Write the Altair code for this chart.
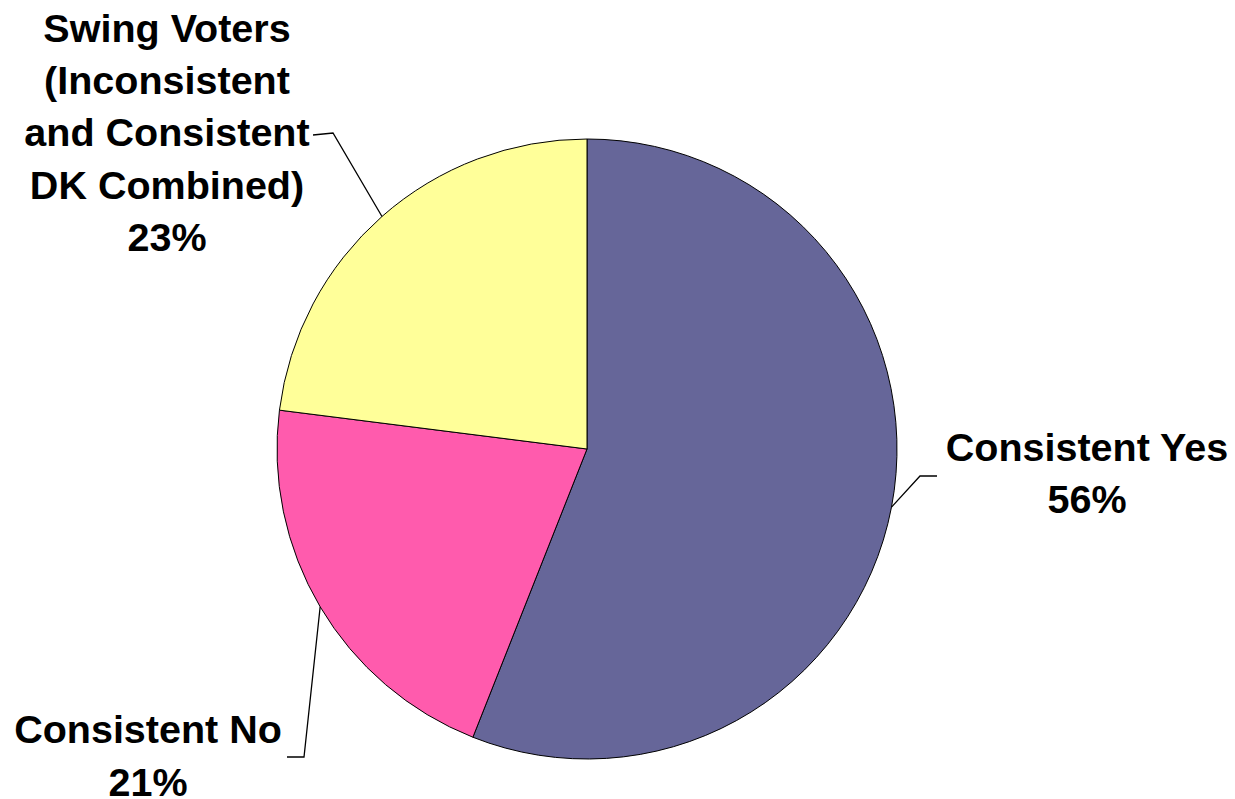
import math
import altair as alt
import pandas as pd

# ---- data ----
categories = ["Consistent Yes", "Consistent No", "Swing Voters"]
values = [56, 21, 23]
colors = ["#666699", "#FF5BAD", "#FFFF99"]
label_lines = [
    ["Consistent Yes", "56%"],
    ["Consistent No", "21%"],
    ["Swing Voters", "(Inconsistent", "and Consistent", "DK Combined)", "23%"],
]

# ---- layout (annotation geometry) ----
W, H = 1235, 799
CX, CY, R = 587, 449, 310
label_anchor = [(1087, 461), (148, 743), (167, 42)]   # centre x, first baseline y
line_step = [52, 53, 52.2]
elbows = [[(920, 476), (937, 476)], [(304, 757), (287, 757)], [(333, 133), (313, 135)]]

xs = alt.Scale(domain=[0, W], range=[0, W], nice=False, zero=False)
ys = alt.Scale(domain=[0, H], range=[0, H], nice=False, zero=False)

pie_df = pd.DataFrame({
    "category": categories,
    "value": values,
    "order": list(range(len(values))),
    "cx": [CX] * 3,
    "cy": [CY] * 3,
})

pie = alt.Chart(pie_df).mark_arc(radius=R, stroke="black", strokeWidth=1).encode(
    theta=alt.Theta("value:Q", stack=True),
    order=alt.Order("order:Q"),
    color=alt.Color("category:N", scale=alt.Scale(domain=categories, range=colors), legend=None),
    x=alt.X("cx:Q", scale=xs, axis=None),
    y=alt.Y("cy:Q", scale=ys, axis=None),
)

# leader lines: start at slice mid-angle on the rim
total = sum(values)
rows = []
cum = 0
for i, v in enumerate(values):
    mid = (cum + v / 2) / total * 2 * math.pi
    cum += v
    pts = [(CX + R * math.sin(mid), CY - R * math.cos(mid))] + elbows[i]
    for j, (px, py) in enumerate(pts):
        rows.append({"seg": categories[i], "k": j, "x": px, "y": py})
lead_df = pd.DataFrame(rows)

leaders = alt.Chart(lead_df).mark_line(color="black", strokeWidth=1.3).encode(
    x=alt.X("x:Q", scale=xs, axis=None),
    y=alt.Y("y:Q", scale=ys, axis=None),
    detail="seg:N",
    order="k:Q",
)

trows = []
for i, lines in enumerate(label_lines):
    ax, ay = label_anchor[i]
    for j, t in enumerate(lines):
        trows.append({"t": t, "x": ax, "y": ay + j * line_step[i]})
text_df = pd.DataFrame(trows)

labels = alt.Chart(text_df).mark_text(
    font="Liberation Sans", fontWeight="bold", fontSize=39.5, align="center",
    baseline="alphabetic", color="black",
).encode(
    x=alt.X("x:Q", scale=xs, axis=None),
    y=alt.Y("y:Q", scale=ys, axis=None),
    text="t:N",
)

chart = alt.layer(pie, leaders, labels).properties(
    width=W, height=H, padding=0, autosize=alt.AutoSizeParams(type="none"),
    background="white",
).configure_view(stroke=None)

chart.save("out.html", embed_options={"renderer": "svg", "actions": False})
